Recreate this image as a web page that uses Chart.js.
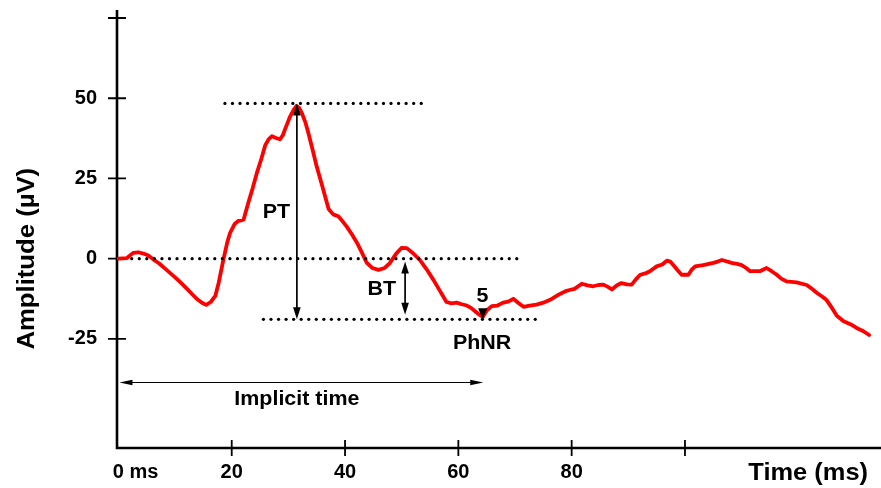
<!DOCTYPE html>
<html>
<head>
<meta charset="utf-8">
<script src="https://cdn.jsdelivr.net/npm/chart.js@4.4.1/dist/chart.umd.min.js"></script>
<style>
html,body{margin:0;padding:0;background:#fff;}
#wrap{width:881px;height:488px;}
</style>
</head>
<body>
<div id="wrap"><canvas id="c" width="881" height="488"></canvas></div>
<script>
// ---- data (time in ms, amplitude in µV) ----
const times = [0,1.5,2.6,3.5,4.4,5.3,6.2,7.2,8.5,10.3,11.5,12.6,13.8,14.8,15.5,16.3,17.1,17.7,18.5,19.2,19.7,20.5,21.2,22.1,22.9,23.7,24.4,25.2,25.9,26.5,27.1,27.8,28.5,29.0,29.4,30.3,30.9,31.4,31.9,32.4,33.0,33.5,34.2,35.0,36.0,37.1,37.9,38.8,39.5,40.3,41.2,42.1,43.0,43.8,44.8,45.9,47.0,47.9,49.0,50.0,50.9,52.0,53.2,54.4,55.6,56.8,57.9,58.8,59.7,60.6,61.5,62.3,62.9,63.6,64.3,65.1,65.9,66.9,67.9,68.8,69.7,70.6,71.5,72.6,73.8,75.0,76.2,77.7,79.1,80.5,81.8,82.8,83.8,84.7,85.6,86.4,87.1,88.0,88.8,89.7,90.6,91.4,92.1,93.0,93.8,95.0,96.0,96.8,97.4,97.9,98.7,99.4,100.6,101.2,101.8,103.2,104.2,105.0,105.8,106.5,107.3,108.2,109.2,110.0,110.8,111.5,113.2,114.4,115.3,116.2,117.0,117.9,119.7,121.5,122.4,123.3,124.2,125.0,126.0,126.8,128.0,129.2,130.3,131.5,132.5];
const amplitudes = [0,0.2,1.8,2.0,1.6,1.0,-0.3,-1.5,-3.5,-6.3,-8.3,-10.3,-12.5,-13.8,-14.4,-13.5,-11.6,-7.5,-0.5,5,8,10.8,11.8,12.2,17.3,22,26.5,31,35.3,37.2,38.2,37.6,37.2,38.4,40.3,44.3,46.3,47.6,47.0,45.3,42.5,39.3,34.5,28.7,22.5,15.5,13.8,13.2,11.8,10.0,7.6,5.0,1.8,-1.2,-2.9,-3.5,-2.9,-1.4,1.5,3.4,3.3,1.7,-0.4,-3.3,-6.6,-10.2,-13.5,-13.9,-13.7,-14.2,-14.6,-15.4,-16.3,-17.3,-18.2,-16.0,-14.8,-14.6,-13.7,-13.4,-12.5,-13.8,-15.0,-14.6,-14.3,-13.7,-12.8,-11.2,-10.0,-9.4,-7.8,-8.3,-8.6,-8.2,-8.1,-8.8,-9.6,-8.3,-7.6,-8.0,-8.1,-6.3,-5.0,-4.6,-3.9,-2.4,-1.8,-0.6,-0.9,-1.9,-3.6,-5.0,-5.0,-3.4,-2.4,-2.0,-1.6,-1.3,-0.9,-0.4,-0.8,-1.3,-1.6,-2.0,-2.9,-3.9,-3.9,-2.9,-3.9,-5.0,-6.2,-7.1,-7.4,-8.2,-9.4,-10.7,-11.8,-12.9,-15.5,-17.8,-19.5,-20.4,-21.6,-22.6,-23.8];

const xTicks = [0,20,40,60,80,100];
const xTickLabels = ['0','20','40','60','80',''];
const yTicks = [-25,0,25,50,75];
const yTickLabels = ['-25','0','25','50',''];

// reference levels (µV) and their time spans (ms)
const peakLevel = 48.4, baseLevel = 0, troughLevel = -18.9;
const peakSpan = [18.8, 53.8];
const baseSpan = [2.35, 70.3];
const troughSpan = [25.6, 74.1];
const ptTime = 31.5;          // PT arrow time
const btTime = 50.6;          // BT arrow time
const btRange = [-0.9, -17.5];
const phnrTime = 64.3;
const implicitLevel = -38.6;
const implicitSpan = [0, 64.4];
// labels: [text, time, amplitude]
const labels = [
  ['PT', 27.9, 14.2],
  ['BT', 46.5, -9.75],
  ['5', 64.25, -11.8],
  ['PhNR', 64.2, -26.4],
  ['Implicit time', 31.5, -44]
];

const FONT = '"Liberation Sans", Arial, Helvetica, sans-serif';

function arrowHead(ctx, x, y, dx, dy, len, half) {
  const bx = x - dx * len, by = y - dy * len;
  const px = -dy * half, py = dx * half;
  ctx.beginPath();
  ctx.moveTo(x, y);
  ctx.lineTo(bx + px, by + py);
  ctx.lineTo(bx - px, by - py);
  ctx.closePath();
  ctx.fill();
}

function dottedH(ctx, x1, x2, y) {
  ctx.fillStyle = '#000';
  for (let x = x1; x <= x2 + 0.1; x += 7.55) {
    ctx.beginPath();
    ctx.arc(x, y, 1.6, 0, Math.PI * 2);
    ctx.fill();
  }
}

function stretchedText(ctx, text, x, y, sx) {
  ctx.save();
  ctx.translate(x, y);
  ctx.scale(sx, 1);
  ctx.fillText(text, 0, 0);
  ctx.restore();
}

const axesPlugin = {
  id: 'axesPlugin',
  beforeDatasetsDraw(chart) {
    const ctx = chart.ctx, xs = chart.scales.x, ys = chart.scales.y, ca = chart.chartArea;
    ctx.save();
    ctx.strokeStyle = '#000';
    ctx.lineWidth = 2.6;
    ctx.beginPath();
    ctx.moveTo(ca.left, ca.top);
    ctx.lineTo(ca.left, ca.bottom + 1.3);
    ctx.moveTo(ca.left - 1.3, ca.bottom);
    ctx.lineTo(ca.right, ca.bottom);
    ctx.stroke();
    ctx.lineWidth = 1.8;
    ctx.beginPath();
    yTicks.forEach(v => {
      const y = ys.getPixelForValue(v);
      ctx.moveTo(ca.left - 9, y); ctx.lineTo(ca.left + 9, y);
    });
    xTicks.forEach(v => {
      if (v === 0) return;
      const x = xs.getPixelForValue(v);
      ctx.moveTo(x, ca.bottom - 8); ctx.lineTo(x, ca.bottom + 8);
    });
    ctx.stroke();
    ctx.restore();
  },
  afterDatasetsDraw(chart) {
    const ctx = chart.ctx, xs = chart.scales.x, ys = chart.scales.y, ca = chart.chartArea;
    const X = v => xs.getPixelForValue(v), Y = v => ys.getPixelForValue(v);
    ctx.save();
    // dotted reference lines
    dottedH(ctx, X(peakSpan[0]), X(peakSpan[1]), Y(peakLevel));
    dottedH(ctx, X(baseSpan[0]), X(baseSpan[1]), Y(baseLevel));
    dottedH(ctx, X(troughSpan[0]), X(troughSpan[1]), Y(troughLevel));
    ctx.strokeStyle = '#000';
    ctx.fillStyle = '#000';
    // PT arrow
    let x = X(ptTime), y1 = Y(peakLevel), y2 = Y(troughLevel);
    ctx.lineWidth = 1.7;
    ctx.beginPath(); ctx.moveTo(x, y1 + 8); ctx.lineTo(x, y2 - 8); ctx.stroke();
    arrowHead(ctx, x, y1, 0, -1, 12, 3.8);
    arrowHead(ctx, x, y2, 0, 1, 12, 3.8);
    // BT arrow
    x = X(btTime); y1 = Y(btRange[0]); y2 = Y(btRange[1]);
    ctx.beginPath(); ctx.moveTo(x, y1 + 8); ctx.lineTo(x, y2 - 8); ctx.stroke();
    arrowHead(ctx, x, y1, 0, -1, 12, 3.8);
    arrowHead(ctx, x, y2, 0, 1, 12, 3.8);
    // Implicit time arrow
    const yi = Y(implicitLevel), xa = X(implicitSpan[0]), xb = X(implicitSpan[1]);
    ctx.lineWidth = 1.1;
    ctx.beginPath(); ctx.moveTo(xa + 6, yi); ctx.lineTo(xb - 6, yi); ctx.stroke();
    arrowHead(ctx, xa + 1, yi, -1, 0, 13, 2.8);
    arrowHead(ctx, xb, yi, 1, 0, 13, 2.8);
    // PhNR marker triangle
    const xt = X(phnrTime), yt = Y(troughLevel);
    ctx.beginPath();
    ctx.moveTo(xt, yt);
    ctx.lineTo(xt - 4.6, yt - 11);
    ctx.lineTo(xt + 4.6, yt - 11);
    ctx.closePath(); ctx.fill();
    // text labels
    ctx.font = 'bold 19.5px ' + FONT;
    ctx.textAlign = 'center';
    ctx.textBaseline = 'middle';
    labels.forEach(l => stretchedText(ctx, l[0], X(l[1]), Y(l[2]), 1.1));
    // "ms" after the 0 tick
    ctx.font = 'bold 20px ' + FONT;
    ctx.textAlign = 'left';
    ctx.fillText(' ms', X(0) + 5.6, 472);
    // axis titles
    ctx.font = 'bold 24px ' + FONT;
    ctx.textAlign = 'right';
    stretchedText(ctx, 'Time (ms)', 868, 473, 1.06);
    ctx.translate(27, Y(0));
    ctx.rotate(-Math.PI / 2);
    ctx.textAlign = 'center';
    stretchedText(ctx, 'Amplitude (µV)', 0, 0, 1.07);
    ctx.restore();
  }
};

new Chart(document.getElementById('c'), {
  type: 'line',
  data: {
    datasets: [{
      data: times.map((t, i) => ({ x: t, y: amplitudes[i] })),
      borderColor: '#ff0000',
      borderWidth: 3.8,
      pointRadius: 0,
      tension: 0,
      fill: false,
      borderJoinStyle: 'round',
      borderCapStyle: 'round'
    }]
  },
  options: {
    responsive: false,
    animation: false,
    devicePixelRatio: 1,
    layout: { padding: { top: 10, right: 0, left: 0, bottom: 0 } },
    plugins: { legend: { display: false }, tooltip: { enabled: false } },
    scales: {
      x: {
        type: 'linear',
        min: -0.25,
        max: 134.6,
        grid: { display: false, drawTicks: false, tickLength: 0 },
        border: { display: false },
        afterBuildTicks: s => { s.ticks = xTicks.map(v => ({ value: v })); },
        afterFit: s => { s.height = 40; s.paddingLeft = 0; s.paddingRight = 0; },
        ticks: {
          autoSkip: false, maxRotation: 0, padding: 12, color: '#000',
          font: { family: FONT, size: 20, weight: 'bold' },
          callback: (v) => { const i = xTicks.indexOf(v); return i >= 0 ? xTickLabels[i] : ''; }
        }
      },
      y: {
        type: 'linear',
        min: -59,
        max: 77.5,
        grid: { display: false, drawTicks: false, tickLength: 0 },
        border: { display: false },
        afterBuildTicks: s => { s.ticks = yTicks.map(v => ({ value: v })); },
        afterFit: s => { s.width = 117; s.paddingTop = 0; s.paddingBottom = 0; },
        ticks: {
          autoSkip: false, padding: 20, color: '#000',
          font: { family: FONT, size: 20, weight: 'bold' },
          callback: (v) => { const i = yTicks.indexOf(v); return i >= 0 ? yTickLabels[i] : ''; }
        }
      }
    }
  },
  plugins: [axesPlugin]
});
</script>
</body>
</html>
